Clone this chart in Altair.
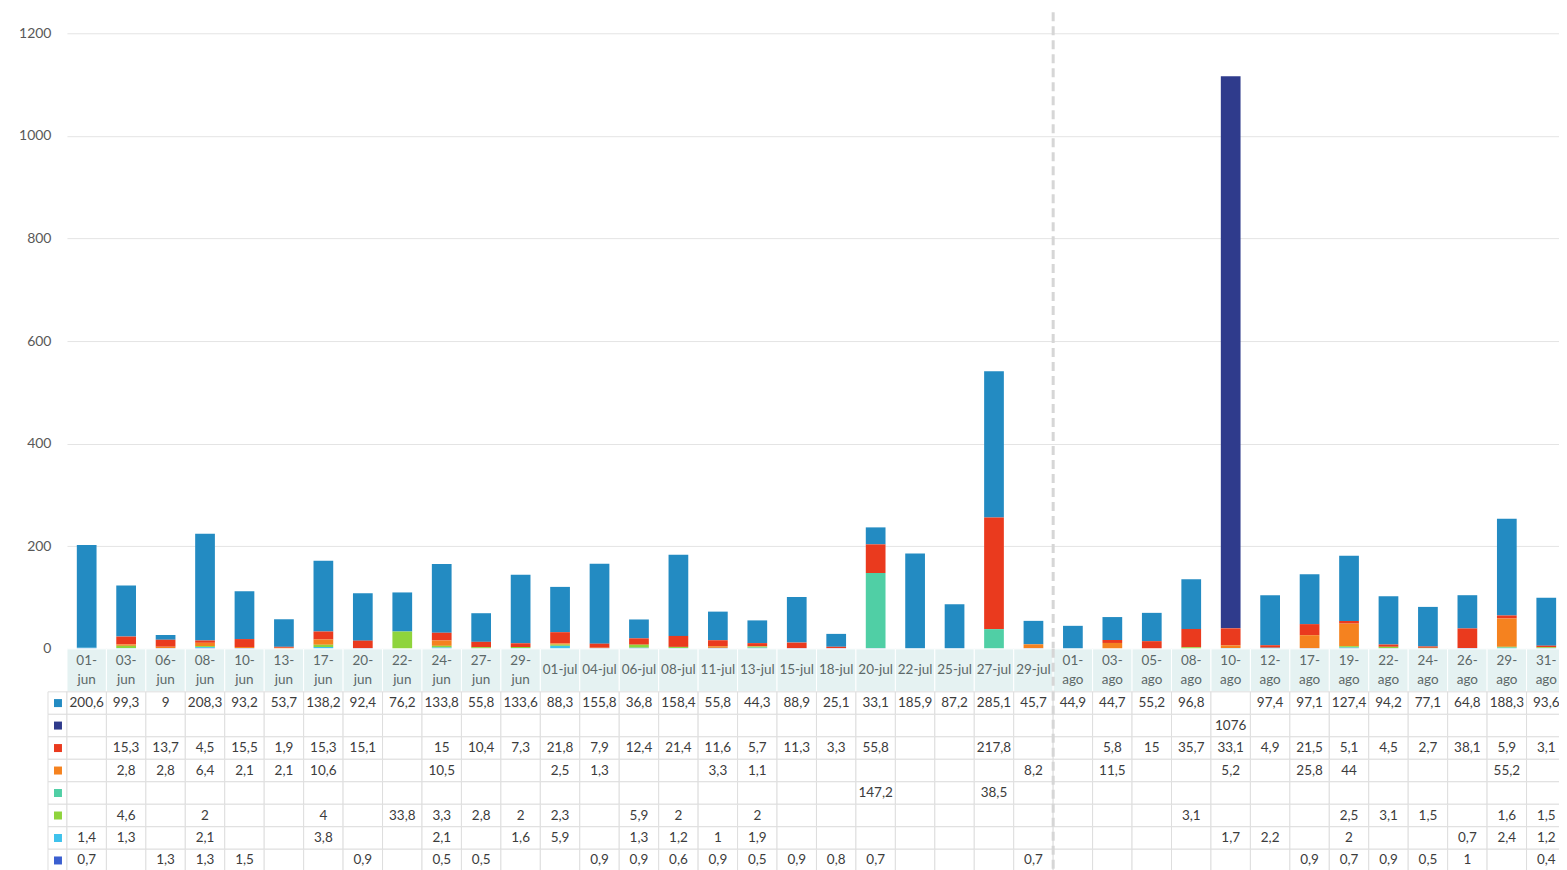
import altair as alt
import pandas as pd

fechas = ["01-jun", "03-jun", "06-jun", "08-jun", "10-jun", "13-jun", "17-jun", "20-jun", "22-jun", "24-jun", "27-jun", "29-jun",
          "01-jul", "04-jul", "06-jul", "08-jul", "11-jul", "13-jul", "15-jul", "18-jul", "20-jul", "22-jul", "25-jul", "27-jul", "29-jul",
          "01-ago", "03-ago", "05-ago", "08-ago", "10-ago", "12-ago", "17-ago", "19-ago", "22-ago", "24-ago", "26-ago", "29-ago", "31-ago"]

cabecera = ["01-\njun", "03-\njun", "06-\njun", "08-\njun", "10-\njun", "13-\njun", "17-\njun", "20-\njun", "22-\njun", "24-\njun", "27-\njun", "29-\njun",
            "01-jul", "04-jul", "06-jul", "08-jul", "11-jul", "13-jul", "15-jul", "18-jul", "20-jul", "22-jul", "25-jul", "27-jul", "29-jul",
            "01-\nago", "03-\nago", "05-\nago", "08-\nago", "10-\nago", "12-\nago", "17-\nago", "19-\nago", "22-\nago", "24-\nago", "26-\nago", "29-\nago", "31-\nago"]

N = None
s1 = [200.6, 99.3, 9, 208.3, 93.2, 53.7, 138.2, 92.4, 76.2, 133.8, 55.8, 133.6,
      88.3, 155.8, 36.8, 158.4, 55.8, 44.3, 88.9, 25.1, 33.1, 185.9, 87.2, 285.1, 45.7,
      44.9, 44.7, 55.2, 96.8, N, 97.4, 97.1, 127.4, 94.2, 77.1, 64.8, 188.3, 93.6]
s2 = [N, N, N, N, N, N, N, N, N, N, N, N,
      N, N, N, N, N, N, N, N, N, N, N, N, N,
      N, N, N, N, 1076, N, N, N, N, N, N, N, N]
s3 = [N, 15.3, 13.7, 4.5, 15.5, 1.9, 15.3, 15.1, N, 15, 10.4, 7.3,
      21.8, 7.9, 12.4, 21.4, 11.6, 5.7, 11.3, 3.3, 55.8, N, N, 217.8, N,
      N, 5.8, 15, 35.7, 33.1, 4.9, 21.5, 5.1, 4.5, 2.7, 38.1, 5.9, 3.1]
s4 = [N, 2.8, 2.8, 6.4, 2.1, 2.1, 10.6, N, N, 10.5, N, N,
      2.5, 1.3, N, N, 3.3, 1.1, N, N, N, N, N, N, 8.2,
      N, 11.5, N, N, 5.2, N, 25.8, 44, N, N, N, 55.2, N]
s5 = [N, N, N, N, N, N, N, N, N, N, N, N,
      N, N, N, N, N, N, N, N, 147.2, N, N, 38.5, N,
      N, N, N, N, N, N, N, N, N, N, N, N, N]
s6 = [N, 4.6, N, 2, N, N, 4, N, 33.8, 3.3, 2.8, 2,
      2.3, N, 5.9, 2, N, 2, N, N, N, N, N, N, N,
      N, N, N, 3.1, N, N, N, 2.5, 3.1, 1.5, N, 1.6, 1.5]
s7 = [1.4, 1.3, N, 2.1, N, N, 3.8, N, N, 2.1, N, 1.6,
      5.9, N, 1.3, 1.2, 1, 1.9, N, N, N, N, N, N, N,
      N, N, N, N, 1.7, 2.2, N, 2, N, N, 0.7, 2.4, 1.2]
s8 = [0.7, N, 1.3, 1.3, 1.5, N, N, 0.9, N, 0.5, 0.5, N,
      N, 0.9, 0.9, 0.6, 0.9, 0.5, 0.9, 0.8, 0.7, N, N, N, 0.7,
      N, N, N, N, N, N, 0.9, 0.7, 0.9, 0.5, 1, N, 0.4]

series = ["S1", "S2", "S3", "S4", "S5", "S6", "S7", "S8"]
valores = [s1, s2, s3, s4, s5, s6, s7, s8]
colores = ["#238bc2", "#2f3b8c", "#ea3a1e", "#f5821f", "#50cfa5", "#8fd43c", "#3fc2ec", "#3b5fd0"]
separador = ["01-ago"]
marcas_y = [0, 200, 400, 600, 800, 1000, 1200]


def fmt(v):
    if v is None:
        return ""
    if float(v).is_integer():
        return str(int(v))
    return str(v).replace(".", ",")


filas = []
for i, (nombre, vals) in enumerate(zip(series, valores)):
    for f, v in zip(fechas, vals):
        filas.append({"fecha": f, "serie": nombre, "idx": i, "valor": v, "etiqueta": fmt(v)})
df = pd.DataFrame(filas)
df_barras = df[df["valor"].notna()]
df_cab = pd.DataFrame({"fecha": fechas, "rotulo": cabecera})
df_cab["dos"] = df_cab["rotulo"].str.contains("\n")
df_cab2 = df_cab[df_cab["dos"]]
df_cab1 = df_cab[~df_cab["dos"]]
df_sep = pd.DataFrame({"fecha": separador})
df_ley = pd.DataFrame({"serie": series})

FONT = "Lato"
W = 1500
H = 616
HH = 43
HB = 180
LH = 19

xscale = alt.Scale(domain=fechas, paddingInner=0, paddingOuter=0)
cscale = alt.Scale(domain=series, range=colores)


def X(**kw):
    return alt.X("fecha:N", scale=xscale, sort=fechas, axis=None, **kw)


barras = alt.Chart(df_barras).mark_bar(width=alt.RelativeBandSize(0.5)).encode(
    x=X(),
    y=alt.Y("valor:Q", stack="zero", scale=alt.Scale(domain=[0, 1200]),
            axis=alt.Axis(values=marcas_y, format="d", title=None, domain=False, ticks=False,
                          labelPadding=16, labelFontSize=14, labelColor="#595959", labelFont=FONT,
                          gridColor="#e4e4e4", gridWidth=1)),
    color=alt.Color("serie:N", scale=cscale, legend=None),
    order=alt.Order("idx:Q", sort="descending"),
)

regla_top = alt.Chart(df_sep).mark_rule(strokeDash=[9, 5], strokeWidth=3, color="#d6d6d6").encode(
    x=X(bandPosition=0), y=alt.value(-21), y2=alt.value(H)
)

graf = alt.layer(barras, regla_top).properties(width=W, height=H)

cab_rect = alt.Chart(df_cab).mark_rect(fill="#e5f2f2", stroke="#ffffff", strokeWidth=1).encode(
    x=X(), y=alt.value(0), y2=alt.value(HH)
)
cab_text2 = alt.Chart(df_cab2).mark_text(lineBreak="\n", lineHeight=LH, fontSize=13.5, font=FONT,
                                         color="#5c6868", baseline="middle").encode(
    x=X(), y=alt.value(HH / 2 - LH / 2), text="rotulo:N"
)
cab_text1 = alt.Chart(df_cab1).mark_text(fontSize=13.5, font=FONT,
                                         color="#5c6868", baseline="middle").encode(
    x=X(), y=alt.value(HH / 2), text="rotulo:N"
)
regla_cab = alt.Chart(df_sep).mark_rule(strokeDash=[9, 5], strokeWidth=3, color="#d6d6d6").encode(
    x=X(bandPosition=0), y=alt.value(0), y2=alt.value(HH)
)
cab = alt.layer(cab_rect, cab_text2, cab_text1, regla_cab).properties(width=W, height=HH)

yb = alt.Y("serie:N", sort=series, axis=None, scale=alt.Scale(domain=series, paddingInner=0, paddingOuter=0))

celdas = alt.Chart(df).mark_rect(fill="#ffffff", stroke="#dedede", strokeWidth=1).encode(x=X(), y=yb)
textos = alt.Chart(df).mark_text(fontSize=13.5, font=FONT, color="#3c3c3c").encode(
    x=X(), y=yb, text="etiqueta:N"
)
ley_celdas = alt.Chart(df_ley).mark_rect(fill="#ffffff", stroke="#dedede", strokeWidth=1).encode(
    x=alt.value(-19), x2=alt.value(0), y=yb
)
ley_cuad = alt.Chart(df_ley).mark_square(size=64, opacity=1, filled=True).encode(
    x=alt.value(-9), y=yb, color=alt.Color("serie:N", scale=cscale, legend=None)
)
regla_tab = alt.Chart(df_sep).mark_rule(strokeDash=[9, 5], strokeWidth=3, color="#d6d6d6").encode(
    x=X(bandPosition=0), y=alt.value(0), y2=alt.value(HB)
)
tabla = alt.layer(ley_celdas, celdas, textos, ley_cuad, regla_tab).properties(width=W, height=HB)

chart = alt.vconcat(graf, cab, tabla, spacing=0, bounds="flush").resolve_scale(color="shared").configure_view(
    stroke=None
).properties(
    padding={"left": 10, "top": 2, "right": -8, "bottom": 0}
)

chart.save("out.html", embed_options={"renderer": "svg", "actions": False})
